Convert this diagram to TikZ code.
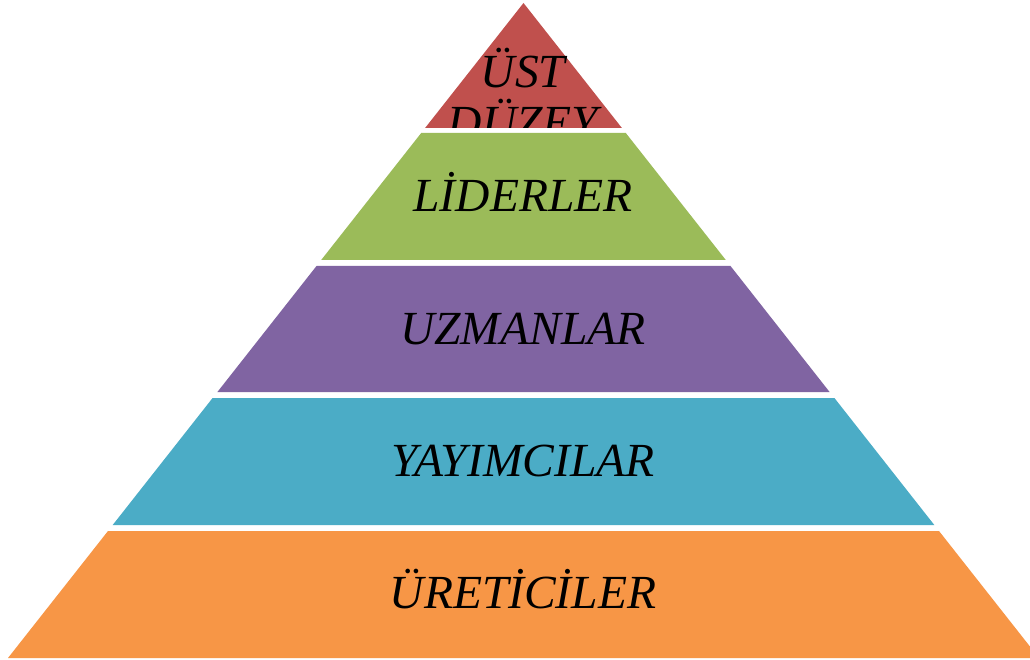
\documentclass[tikz,border=0pt]{standalone}
\usepackage{fontspec}
\setmainfont{Liberation Serif}
\definecolor{cred}{HTML}{C0504D}
\definecolor{cgreen}{HTML}{9BBB59}
\definecolor{cpurple}{HTML}{8064A2}
\definecolor{cblue}{HTML}{4BACC6}
\definecolor{corange}{HTML}{F79646}
\begin{document}
\begin{tikzpicture}[x=1pt,y=-1pt,
  lbl/.style={font=\fontsize{47.5}{51}\selectfont\itshape, text=black, inner sep=0pt, anchor=base, align=center}]
\useasboundingbox (0,0) rectangle (1030,660);
\clip (0,0) rectangle (1030,660);
\fill[white] (0,0) rectangle (1030,660);
% layers
\fill[cred]    (523.5,3) -- (621.9,128) -- (425.1,128) -- cycle;
\fill[cgreen]  (421.2,133) -- (625.8,133) -- (725.8,260) -- (321.2,260) -- cycle;
\fill[cpurple] (316.5,266) -- (730.5,266) -- (829.6,392) -- (217.4,392) -- cycle;
\fill[cblue]   (212.6,398) -- (834.4,398) -- (934.3,525) -- (112.7,525) -- cycle;
\fill[corange] (108,531) -- (939,531) -- (1039,658) -- (8,658) -- cycle;
% labels
\begin{scope}
\clip (0,0) rectangle (1030,128);
\node[lbl] (top) at (523,139) {ÜST\\DÜZEY};
\end{scope}
\node[lbl] (lid) at (523,212) {LİDERLER};
\node[lbl] (uzm) at (523,344) {UZMANLAR};
\node[lbl] (yay) at (523,476) {YAYIMCILAR};
\node[lbl] (ure) at (523,608) {ÜRETİCİLER};
\end{tikzpicture}
\end{document}
